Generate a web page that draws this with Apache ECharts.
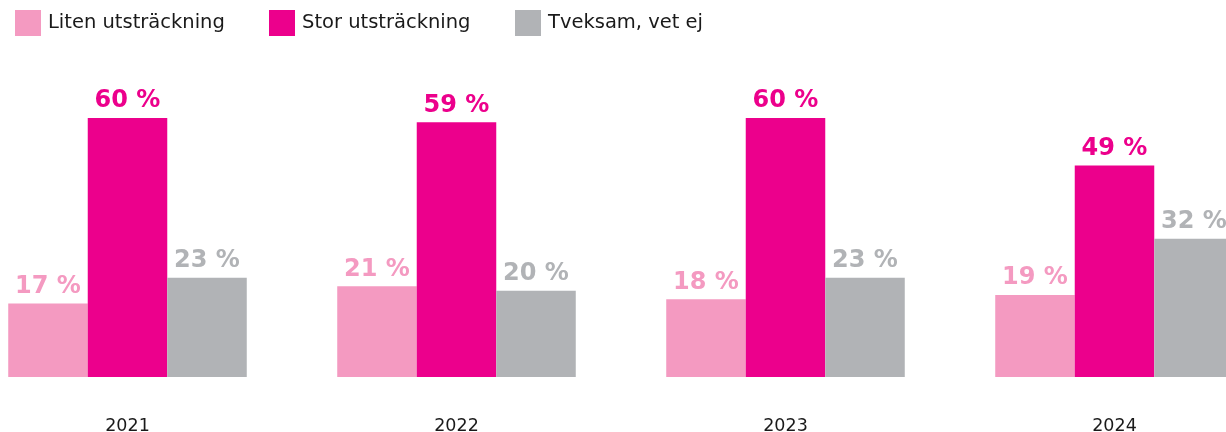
<!DOCTYPE html>
<html>
<head>
<meta charset="utf-8">
<script src="https://cdn.jsdelivr.net/npm/echarts@6/dist/echarts.min.js"></script>
<style>
html,body{margin:0;padding:0;background:#fff;overflow:hidden;width:1226px;height:432px;}
#chart{position:absolute;left:-37px;top:0;width:1316px;height:432px;}
</style>
</head>
<body>
<div id="chart"></div>
<script>
var years = ['2021', '2022', '2023', '2024'];
var seriesNames = ['Liten utsträckning', 'Stor utsträckning', 'Tveksam, vet ej'];
var liten = [17, 21, 18, 19];
var stor = [60, 59, 60, 49];
var tveksam = [23, 20, 23, 32];
var colors = ['#f49ac1', '#ec008c', '#b1b3b6'];

var chart = echarts.init(document.getElementById('chart'));
var values = [liten, stor, tveksam];
var legendLeft = [47, 301, 547];

function makeSeries(i) {
  return {
    name: seriesNames[i],
    type: 'bar',
    data: values[i],
    barGap: 0,
    barCategoryGap: '27.5%',
    itemStyle: { color: colors[i] },
    label: {
      show: true,
      position: 'top',
      distance: 5,
      formatter: '{c} %',
      color: colors[i],
      fontFamily: 'DejaVu Sans',
      fontWeight: 'bold',
      fontSize: 24
    },
    emphasis: { disabled: true }
  };
}

chart.setOption({
  animation: false,
  color: colors,
  legend: seriesNames.map(function (n, i) {
    return {
      data: [n],
      left: legendLeft[i],
      top: 5,
      icon: 'rect',
      itemWidth: 26,
      itemHeight: 26,
      itemGap: 12,
      selectedMode: false,
      textStyle: { fontFamily: 'DejaVu Sans', fontSize: 19.5, color: '#1a1a1a', padding: [0, 0, 0, 2] }
    };
  }),
  grid: { left: 0, right: 0, top: 118, bottom: 55, containLabel: false, outerBoundsMode: 'none' },
  xAxis: {
    type: 'category',
    data: years,
    axisLine: { show: false },
    axisTick: { show: false },
    axisLabel: { margin: 40, fontFamily: 'DejaVu Sans', fontSize: 17.5, color: '#1a1a1a' }
  },
  yAxis: {
    type: 'value',
    min: 0,
    max: 60,
    show: false,
    splitLine: { show: false }
  },
  series: [makeSeries(0), makeSeries(1), makeSeries(2)]
});
</script>
</body>
</html>
